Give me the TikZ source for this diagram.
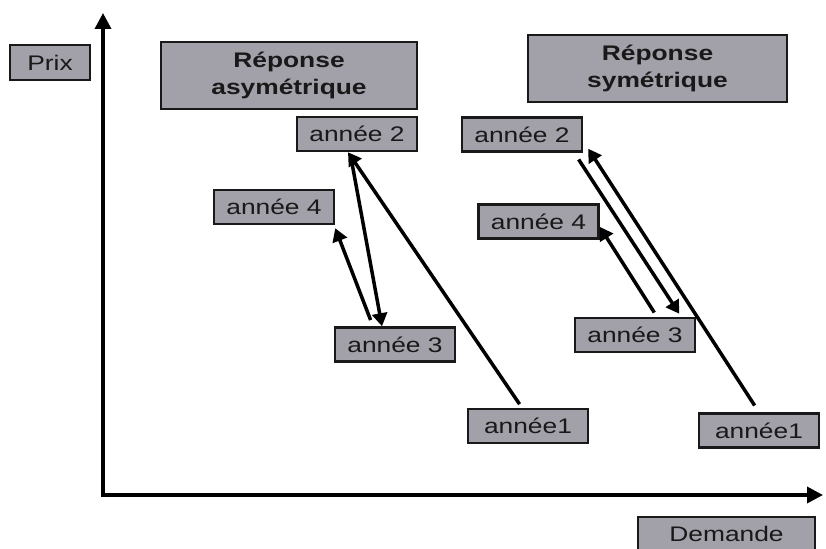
\documentclass[tikz,border=0pt]{standalone}
\usepackage{fontspec}
\setmainfont{Liberation Sans}[FakeStretch=1.25]
\usetikzlibrary{arrows.meta}
\definecolor{boxgray}{RGB}{162,160,168}
\definecolor{boxline}{RGB}{25,25,25}

\begin{document}
\begin{tikzpicture}[x=0.3mm, y=-0.3mm,
    every node/.style={font=\fontsize{18}{23}\selectfont, text=boxline},
    yearbox/.style={draw=boxline, line width=0.75mm, fill=boxgray, minimum width=36mm, minimum height=10.2mm, inner sep=0pt},
    titlebox/.style={yearbox, font=\fontsize{18}{23}\selectfont\bfseries, align=center, minimum height=20.1mm},
    axis/.style={line width=1.05mm, {Triangle[length=4.8mm, width=4.8mm]}-{Triangle[length=4.8mm, width=4.8mm]}},
    move/.style={line width=1.05mm, -{Triangle[length=3.9mm, width=4.5mm]}}]
    \useasboundingbox (0,0) rectangle (826,549);

    % axes
    \coordinate (ytop) at (103,13);
    \coordinate (origin) at (103,495);
    \coordinate (xend) at (823,495);
    \draw[axis] (ytop) -- (origin) -- (xend);
    \node[yearbox, minimum width=24mm, minimum height=10.5mm] (prix) at (50,62.5) {Prix};
    \node[yearbox, minimum width=53mm] (demande) at (726.5,534) {Demande};

    % titles
    \node[titlebox, minimum width=76.8mm] (asym) at (289,75.5) {Réponse\\ asymétrique};
    \node[titlebox, minimum width=77.7mm] (sym) at (657.5,68.5) {Réponse\\ symétrique};

    % left: asymmetric
    \node[yearbox] (a2L) at (357,134) {année 2};
    \node[yearbox] (a4L) at (274,207) {année 4};
    \node[yearbox] (a3L) at (395,344.5) {année 3};
    \node[yearbox] (a1L) at (528,426) {année1};

    % right: symmetric
    \node[yearbox] (a2R) at (522,134.5) {année 2};
    \node[yearbox] (a4R) at (538.5,221.5) {année 4};
    \node[yearbox] (a3R) at (635,335) {année 3};
    \node[yearbox] (a1R) at (759,430.5) {année1};

    \draw[move, shorten <=1.3mm] ([xshift=-1.8mm]a1L.north) -- ([xshift=-2.7mm]a2L.south);
    \draw[move, shorten <=1.5mm] ([xshift=-2.1mm]a2L.south) -- ([xshift=-3.9mm]a3L.north);
    \draw[move, shorten <=2mm] ([xshift=-6.6mm]a3L.north) -- ([yshift=-0.9mm]a4L.south east);

    \draw[move, shorten <=2.4mm] (a1R.north) -- ([xshift=1.5mm, yshift=1.2mm]a2R.south east);
    \draw[move, shorten <=2.4mm] ([xshift=-2.7mm]a2R.south east) -- ([xshift=-5.1mm, yshift=0.9mm]a3R.north east);
    \draw[move, shorten <=1.5mm] ([xshift=6.6mm]a3R.north) -- ([yshift=-1.6mm]a4R.east);
\end{tikzpicture}
\end{document}
